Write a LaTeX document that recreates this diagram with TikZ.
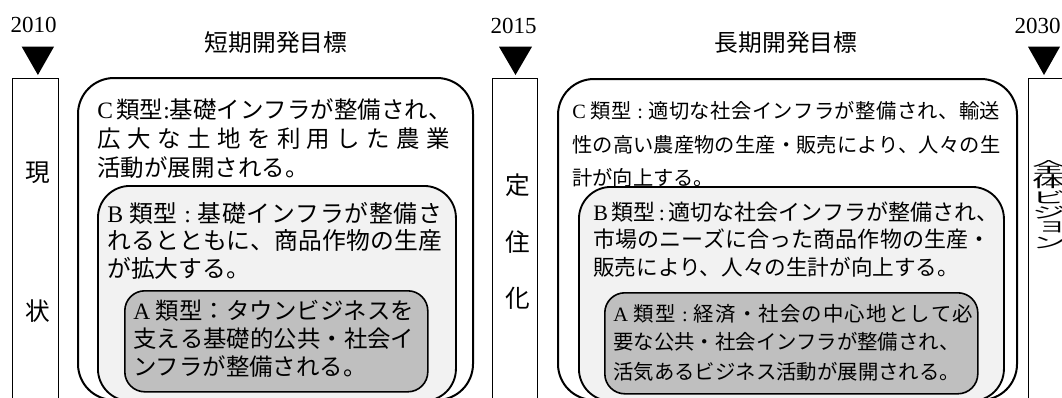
\documentclass[tikz,border=0pt]{standalone}
\usepackage{fontspec}
\usepackage{graphicx}
\setmainfont{Liberation Serif}
\newfontfamily\jp{Noto Sans CJK JP}
\newfontfamily\lat{Liberation Serif}
\definecolor{gB}{RGB}{242,242,242}
\definecolor{gA}{RGB}{191,191,191}
\newcommand\jfs[1]{\jp\fontsize{#1}{#1}\selectfont}
\ExplSyntaxOn
\NewDocumentCommand\spr{mm}{\hbox~to~#1{\tl_map_inline:nn{#2}{{##1}\hfil}\unskip}}
\ExplSyntaxOff
\begin{document}
\begin{tikzpicture}[x=0.75pt,y=-0.75pt,
  tl/.style={anchor=base west,inner sep=0pt},
  ctr/.style={anchor=base,inner sep=0pt},
  bar/.style={draw,line width=1.1pt,anchor=north west,inner sep=0pt},
  boxC/.style={draw,line width=1.5pt,fill=white,rounded corners=27pt,anchor=north west,inner sep=0pt},
  boxB/.style={draw,line width=1.4pt,fill=gB,rounded corners=24pt,anchor=north west,inner sep=0pt},
  boxA/.style={draw,line width=1.2pt,fill=gA,rounded corners=15pt,anchor=north west,inner sep=0pt},
  tri/.style={fill=black},
  yr/.style={ctr,font=\lat\fontsize{17.25pt}{17.25pt}\selectfont},
  hd/.style={ctr,font=\jfs{17.8pt}},
  bc/.style={ctr,font=\jfs{18.5pt}},
  fSC/.style={tl,font=\jfs{17.6pt}},
  fSB/.style={tl,font=\jfs{17.85pt}},
  fSA/.style={tl,font=\jfs{17.55pt}},
  fLC/.style={tl,font=\jfs{15.2pt}},
  fLB/.style={tl,font=\jfs{16.5pt}},
  fLA/.style={tl,font=\jfs{15.3pt}},
  vt/.style={anchor=center,inner sep=0pt,font=\jfs{21pt}}]
\useasboundingbox (0,0) rectangle (1062,397);
\clip (0,0) rectangle (1062,397);

% years and markers
\node[yr] (y2010) at (33.5,32) {2010};
\node[yr] (y2015) at (513.5,33) {2015};
\node[yr] (y2030) at (1037.5,33) {2030};
\fill[tri] (21.7,46.7) -- (54,46.7) -- (37.9,75) -- cycle;
\fill[tri] (499,46.7) -- (532,46.7) -- (515.5,75) -- cycle;
\fill[tri] (1028,46.7) -- (1060,46.7) -- (1044,75) -- cycle;

% headers
\node[hd] (hS) at (276,51.5) {短期開発目標};
\node[hd] (hL) at (786,51.5) {長期開発目標};

% bars
\node[bar,minimum width=34.5pt,minimum height=256.5pt] (bar1) at (12,78) {};
\node[bar,minimum width=33.75pt,minimum height=256.5pt] (bar2) at (492,78) {};
\node[bar,minimum width=39pt,minimum height=256.5pt] (bar3) at (1028,78) {};
\node[bc] (k1) at (37.5,181.6) {現};
\node[bc] (k2) at (37.5,320.6) {状};
\node[bc] (k3) at (518,194.6) {定};
\node[bc] (k4) at (518,251.6) {住};
\node[bc] (k5) at (518,307.6) {化};
\node[vt] (v1) at (1049,167) {\scalebox{1.2}[0.55]{全}};
\node[vt] (v2) at (1049,182) {\scalebox{1.2}[0.55]{体}};
\node[vt] (v3) at (1049,197) {\scalebox{1.2}[0.55]{ビ}};
\node[vt] (v4) at (1049,212.5) {\scalebox{1.2}[0.55]{ジ}};
\node[vt] (v5) at (1052,227.5) {\scalebox{0.9}[0.55]{ヨ}};
\node[vt] (v6) at (1049,243) {\scalebox{1.2}[0.55]{ン}};

% short-term boxes
\node[boxC,minimum width=296.25pt,minimum height=241.5pt] (sC) at (77,77) {};
\node[boxB,minimum width=268.5pt,minimum height=161.25pt] (sB) at (97,185) {};
\node[boxA,minimum width=227.25pt,minimum height=75.75pt] (sA) at (124,290) {};
\node[fSC] (sc1) at (97,118.5) {\spr{264.75pt}{{{\lat C}\ }類型{\lat :}基礎インフラが整備され、}};
\node[fSC] (sc2) at (97,147.5) {\spr{264.75pt}{広大な土地を利用した農業}};
\node[fSC] (sc3) at (97,176.5) {活動が展開される。};
\node[fSB] (sb1) at (107,222.6) {\spr{251.25pt}{{{\lat B}\ }類型{\lat\ :\ }基礎インフラが整備さ}};
\node[fSB] (sb2) at (107,249.6) {\spr{251.25pt}{れるとともに、商品作物の生産}};
\node[fSB] (sb3) at (107,277.6) {が拡大する。};
\node[fSA] (sa1) at (133,319.4) {\spr{210.75pt}{{{\lat A}\ }類型：タウンビジネスを}};
\node[fSA] (sa2) at (133,347.4) {\spr{210.75pt}{支える基礎的公共・社会イ}};
\node[fSA] (sa3) at (133,375.4) {ンフラが整備される。};

% long-term boxes
\node[boxC,minimum width=344.25pt,minimum height=240.75pt] (lC) at (557,78) {};
\node[boxB,minimum width=318.75pt,minimum height=160.5pt] (lB) at (578,186) {};
\node[boxA,minimum width=279.75pt,minimum height=75.75pt] (lA) at (604,292) {};
\node[fLC] (lc1) at (572,118.3) {\spr{321pt}{{{\lat C}\ }類型{\lat\ :\ }適切な社会インフラが整備され、輸送}};
\node[fLC] (lc2) at (572,152.3) {\spr{321pt}{性の高い農産物の生産・販売により、人々の生}};
\node[fLC] (lc3) at (572,185.3) {計が向上する。};
\node[fLB] (lb1) at (593,220.9) {\spr{297.75pt}{{{\lat B}\ }類型{\lat\ :\ }適切な社会インフラが整備され、}};
\node[fLB] (lb2) at (593,247.9) {\spr{297.75pt}{市場のニーズに合った商品作物の生産・}};
\node[tl,font=\jfs{16.2pt}] (lb3) at (593,275.9) {販売により、人々の生計が向上する。};
\node[fLA] (la1) at (613,321.3) {\spr{270pt}{{{\lat A}\ }類型{\lat\ :\ }経済・社会の中心地として必}};
\node[fLA] (la2) at (613,349.3) {要な公共・社会インフラが整備され、};
\node[fLA] (la3) at (613,379.3) {活気あるビジネス活動が展開される。};
\end{tikzpicture}
\end{document}
